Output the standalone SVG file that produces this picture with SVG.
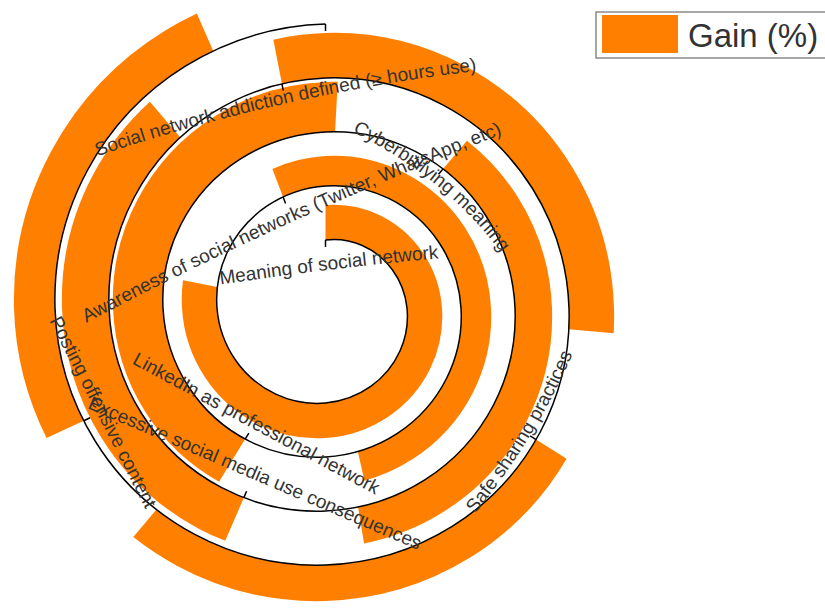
<svg xmlns="http://www.w3.org/2000/svg" width="825" height="610" viewBox="0 0 825 610">
<style>
.bar{fill:#ff8000;stroke:none}
.axis{fill:none;stroke:#000;stroke-width:1.5}
.tick{stroke:#000;stroke-width:1.5}
.lbl{font-family:"Liberation Sans",Arial,sans-serif;font-size:19px;fill:#333}
.leg{font-family:"Liberation Sans",Arial,sans-serif;font-size:33px;fill:#333}
</style>
<defs>
<path id="p1" d="M 217 285 Q 330 268 442 258"/>
<path id="p2" d="M 84 324 Q 288.7 215.7 505 133"/>
<path id="p3" d="M 133 364 L 374 494"/>
<path id="p4" d="M 351 131 Q 447 178 502 254"/>
<path id="p5" d="M 87 408 L 418 550"/>
<path id="p6" d="M 98 156 Q 282.6 94 476 71"/>
<path id="p7" d="M 474 515 Q 535 440 573 353"/>
<path id="p8" d="M 49 320 L 146 510"/>
</defs>
<rect width="825" height="610" fill="#fff"/>
<g id="bars">
<g id="cat1"><path class="bar" d="M 325.5 240 A 70 70 0 0 1 361.75 245.21 A 75 75 0 0 1 392.18 269.5 A 79 79 0 0 1 407 308 A 84 84 0 0 1 399.98 351 A 88 88 0 0 1 370.75 386.37 A 93 93 0 0 1 325.5 403 A 97 97 0 0 1 275.75 394.17 A 102 102 0 0 1 235.43 360 A 106 106 0 0 1 217 308 A 109 109 0 0 1 217.38 286.98 L 183.02 280.31 A 144 144 0 0 0 182 308 A 141 141 0 0 0 205.12 377.5 A 137 137 0 0 0 258.25 424.48 A 132 132 0 0 0 325.5 438 A 128 128 0 0 0 388.25 416.69 A 123 123 0 0 0 430.29 368.5 A 119 119 0 0 0 442 308 A 114 114 0 0 0 422.49 252 A 110 110 0 0 0 379.25 214.9 A 105 105 0 0 0 325.5 205 Z"/></g>
<g id="cat2"><path class="bar" d="M 283.1 196.95 A 120 120 0 0 1 325.5 186 A 124 124 0 0 1 388.75 198.45 A 129 129 0 0 1 438.95 242.5 A 133 133 0 0 1 461 308 A 138 138 0 0 1 446.74 378 A 142 142 0 0 1 397.75 433.14 A 146 146 0 0 1 357.83 451.5 L 364.43 480.76 A 176 176 0 0 0 412.75 459.12 A 172 172 0 0 0 472.72 393 A 168 168 0 0 0 491 308 A 163 163 0 0 0 464.93 227.5 A 159 159 0 0 0 403.75 172.47 A 154 154 0 0 0 325.5 156 A 150 150 0 0 0 272.4 168.93 Z"/></g>
<g id="cat3"><path class="bar" d="M 245.17 439.07 A 156 156 0 0 1 188.67 387 A 160 160 0 0 1 163 308 A 165 165 0 0 1 180.87 224.5 A 169 169 0 0 1 239.75 159.48 A 174 174 0 0 1 325.5 132 A 176 176 0 0 1 335.05 131.8 L 337.75 81.87 A 226 226 0 0 0 325.5 82 A 224 224 0 0 0 214.75 116.18 A 219 219 0 0 0 137.57 199.5 A 215 215 0 0 0 113 308 A 210 210 0 0 0 145.37 412 A 206 206 0 0 0 219.05 481.7 Z"/></g>
<g id="cat4"><path class="bar" d="M 443 168.97 A 184 184 0 0 1 485.72 215.5 A 187 187 0 0 1 515 308 A 192 192 0 0 1 493.51 405 A 196 196 0 0 1 424.75 479.9 A 200 200 0 0 1 358.08 506.96 L 364.06 543.47 A 237 237 0 0 0 443.25 511.95 A 233 233 0 0 0 525.55 423.5 A 229 229 0 0 0 552 308 A 224 224 0 0 0 517.76 197 A 220 220 0 0 0 466.88 140.7 Z"/></g>
<g id="cat5"><path class="bar" d="M 243.83 497.65 A 207 207 0 0 1 221.75 487.7 A 210 210 0 0 1 141.9 414 A 214 214 0 0 1 109 308 A 219 219 0 0 1 134.11 197.5 A 222 222 0 0 1 180.37 137.47 L 149.9 101.68 A 269 269 0 0 0 93.41 174 A 266 266 0 0 0 62 308 A 261 261 0 0 0 101.2 437.5 A 257 257 0 0 0 198.25 528.4 A 254 254 0 0 0 225.24 540.81 Z"/></g>
<g id="cat6"><path class="bar" d="M 281.93 83.85 A 229 229 0 0 1 325.5 78 A 232 232 0 0 1 442.75 104.92 A 237 237 0 0 1 532.48 188.5 A 241 241 0 0 1 569 308 A 244 244 0 0 1 568.82 329.3 L 613.65 333.22 A 289 289 0 0 0 614 308 A 286 286 0 0 0 571.45 166 A 282 282 0 0 0 465.25 65.95 A 277 277 0 0 0 325.5 33 A 274 274 0 0 0 273.34 39.68 Z"/></g>
<g id="cat7"><path class="bar" d="M 536.06 439.57 A 250 250 0 0 1 451.75 526.67 A 255 255 0 0 1 325.5 565 A 259 259 0 0 1 194.75 534.46 A 262 262 0 0 1 156.44 509.46 L 133.3 537.03 A 298 298 0 0 0 176.75 565.64 A 295 295 0 0 0 325.5 601 A 291 291 0 0 0 469.75 557.85 A 286 286 0 0 0 566.59 458.65 Z"/></g>
<g id="cat8"><path class="bar" d="M 83.74 420.73 A 268 268 0 0 1 55 308 A 273 273 0 0 1 87.34 170.5 A 277 277 0 0 1 185.75 65.95 A 280 280 0 0 1 213.23 50.99 L 196.82 13.41 A 321 321 0 0 0 165.25 30.44 A 318 318 0 0 0 51.84 150 A 314 314 0 0 0 14 308 A 310 310 0 0 0 46.59 438.06 Z"/></g>
</g>
<g id="connectors">
<path class="axis" d="M 325.5 240 A 70 70 0 0 1 361.75 245.21 A 75 75 0 0 1 392.18 269.5 A 79 79 0 0 1 407 308 A 84 84 0 0 1 399.98 351 A 88 88 0 0 1 370.75 386.37 A 93 93 0 0 1 325.5 403 A 97 97 0 0 1 275.75 394.17 A 102 102 0 0 1 235.43 360 A 106 106 0 0 1 217 308 A 111 111 0 0 1 227.64 251.5 A 115 115 0 0 1 266.75 206.24 A 120 120 0 0 1 325.5 186 A 124 124 0 0 1 388.75 198.45 A 129 129 0 0 1 438.95 242.5 A 133 133 0 0 1 461 308 A 138 138 0 0 1 446.74 378 A 142 142 0 0 1 397.75 433.14 A 147 147 0 0 1 325.5 457 A 151 151 0 0 1 248.75 440.93 A 156 156 0 0 1 188.67 387 A 160 160 0 0 1 163 308 A 165 165 0 0 1 180.87 224.5 A 169 169 0 0 1 239.75 159.48 A 174 174 0 0 1 325.5 132 A 178 178 0 0 1 415.75 151.68 A 183 183 0 0 1 485.72 215.5 A 187 187 0 0 1 515 308 A 192 192 0 0 1 493.51 405 A 196 196 0 0 1 424.75 479.9 A 201 201 0 0 1 325.5 511 A 205 205 0 0 1 221.75 487.7 A 210 210 0 0 1 141.9 414 A 214 214 0 0 1 109 308 A 219 219 0 0 1 134.11 197.5 A 223 223 0 0 1 212.75 112.71 A 228 228 0 0 1 325.5 78 A 232 232 0 0 1 442.75 104.92 A 237 237 0 0 1 532.48 188.5 A 241 241 0 0 1 569 308 A 246 246 0 0 1 540.27 432 A 250 250 0 0 1 451.75 526.67 A 255 255 0 0 1 325.5 565 A 259 259 0 0 1 194.75 534.46 A 264 264 0 0 1 95.14 441 A 268 268 0 0 1 55 308 A 273 273 0 0 1 87.34 170.5 A 277 277 0 0 1 185.75 65.95 A 282 282 0 0 1 325.5 24"/>
<line class="tick" x1="325.5" y1="240" x2="325.5" y2="247"/>
<line class="tick" x1="283.1" y1="196.95" x2="285.6" y2="203.49"/>
<line class="tick" x1="245.17" y1="439.07" x2="248.83" y2="433.1"/>
<line class="tick" x1="443" y1="168.97" x2="438.48" y2="174.32"/>
<line class="tick" x1="243.83" y1="497.65" x2="246.6" y2="491.22"/>
<line class="tick" x1="281.93" y1="83.85" x2="283.27" y2="90.72"/>
<line class="tick" x1="536.06" y1="439.57" x2="530.12" y2="435.86"/>
<line class="tick" x1="83.74" y1="420.73" x2="90.08" y2="417.77"/>
<line class="tick" x1="325.5" y1="24" x2="325.5" y2="31"/>
</g>
<g id="labels">
<text class="lbl" text-anchor="middle"><textPath href="#p1" startOffset="50%">Meaning of social network</textPath></text>
<text class="lbl" text-anchor="middle"><textPath href="#p2" startOffset="50%">Awareness of social networks (Twitter, WhatsApp, etc)</textPath></text>
<text class="lbl" text-anchor="middle"><textPath href="#p3" startOffset="50%">LinkedIn as professional network</textPath></text>
<text class="lbl" text-anchor="middle"><textPath href="#p4" startOffset="50%">Cyberbullying meaning</textPath></text>
<text class="lbl" text-anchor="middle"><textPath href="#p5" startOffset="50%">Excessive social media use consequences</textPath></text>
<text class="lbl" text-anchor="middle"><textPath href="#p6" startOffset="50%">Social network addiction defined (≥ hours use)</textPath></text>
<text class="lbl" text-anchor="middle"><textPath href="#p7" startOffset="50%">Safe sharing practices</textPath></text>
<text class="lbl" text-anchor="middle"><textPath href="#p8" startOffset="50%">Posting offensive content</textPath></text>
</g>
<g id="legend">
<rect x="596" y="12" width="240" height="46" fill="#fff" stroke="#8a8a8a" stroke-width="1.5"/>
<rect x="602" y="15" width="76" height="38" fill="#ff8000"/>
<text class="leg" x="688" y="47">Gain (%)</text>
</g>
</svg>
